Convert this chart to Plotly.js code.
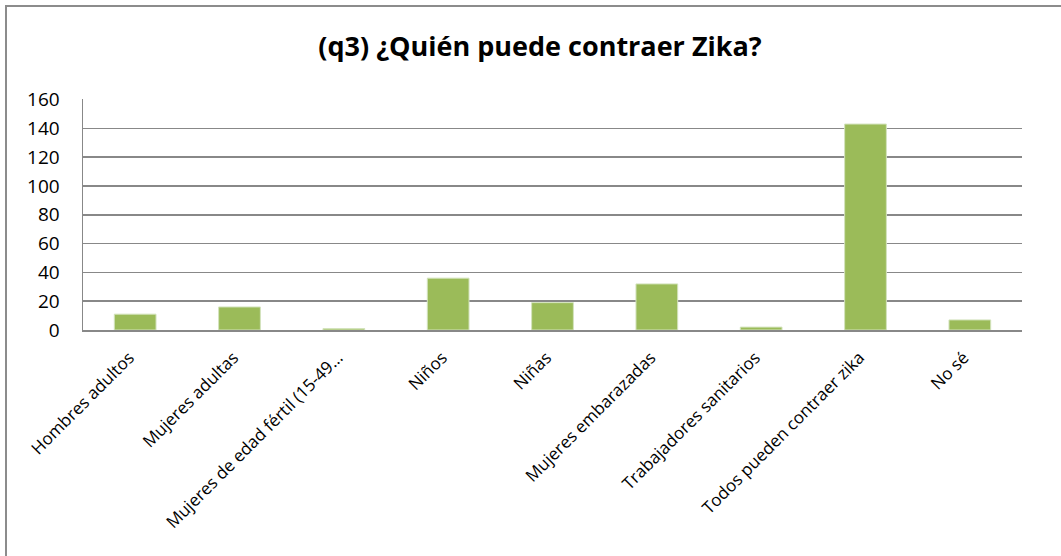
<!DOCTYPE html>
<html>
<head>
<meta charset="utf-8">
<script src="https://cdn.plot.ly/plotly-3.0.1.min.js"></script>
<style>
html,body{margin:0;padding:0;background:#fff;}
#chart{width:1061px;height:556px;}
</style>
</head>
<body>
<div id="chart"></div>
<script>
const categories = [
  "Hombres adultos",
  "Mujeres adultas",
  "Mujeres de edad fértil (15-49…",
  "Niños",
  "Niñas",
  "Mujeres embarazadas",
  "Trabajadores sanitarios",
  "Todos pueden contraer zika",
  "No sé"
];
const values = [11, 16, 1, 36, 19, 32, 2, 143, 7];
const yTicks = [0, 20, 40, 60, 80, 100, 120, 140, 160];
const chartTitle = "(q3) ¿Quién puede contraer Zika?";

const W = 1061, H = 556;
const m = {l: 83, r: 39, t: 99, b: 226};
const pw = W - m.l - m.r, ph = H - m.t - m.b;
const px = x => (x - m.l) / pw;
const py = y => 1 - (y - m.t) / ph;

const font = "'Open Sans', 'Noto Sans', sans-serif";

Plotly.newPlot('chart', [{
  type: 'bar',
  x: categories,
  y: values,
  marker: {color: '#9BBB59', line: {color: '#d3e3bd', width: 1}},
  width: 0.4,
  hoverinfo: 'x+y'
}], {
  width: W, height: H,
  margin: m,
  paper_bgcolor: '#ffffff',
  plot_bgcolor: '#ffffff',
  showlegend: false,
  title: {
    text: '<b>' + chartTitle + '</b>',
    font: {family: font, size: 27, color: '#000'},
    x: px(540), xref: 'paper', xanchor: 'center',
    y: 1 - 47 / H, yref: 'container', yanchor: 'middle'
  },
  xaxis: {
    type: 'category',
    tickangle: -45,
    tickfont: {family: font, size: 17, color: '#000'},
    showgrid: false,
    showline: true, linecolor: '#888888', linewidth: 2,
    ticks: '',
    ticklabelstandoff: 9,
    ticklabelshift: -6,
    fixedrange: true
  },
  yaxis: {
    range: [0, 160.4],
    tickvals: yTicks,
    ticktext: yTicks.map(String),
    tickfont: {family: font, size: 19, color: '#000'},
    showgrid: true, gridcolor: '#888888', gridwidth: 1.5,
    showline: true, linecolor: '#888888', linewidth: 1.5,
    zeroline: false,
    ticks: '',
    ticklabelstandoff: 18,
    fixedrange: true
  },
  shapes: [{
    type: 'rect', xref: 'paper', yref: 'paper',
    x0: px(6), x1: px(1100), y0: py(600), y1: py(6),
    line: {color: '#8c8c8c', width: 2},
    layer: 'below'
  }]
}, {displayModeBar: false, staticPlot: true});
</script>
</body>
</html>
